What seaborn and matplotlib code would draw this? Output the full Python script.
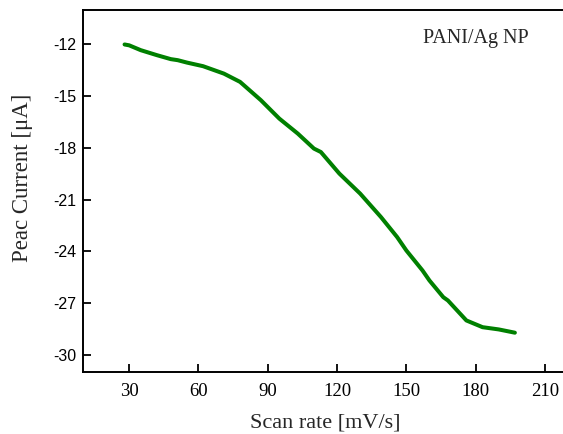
import matplotlib
matplotlib.use("Agg")
import matplotlib.pyplot as plt
import seaborn as sns
import pandas as pd

# Peak current vs scan rate for PANI/Ag NP electrode
scan_rate = [28, 30, 35, 42, 48, 51, 55, 62, 71, 78, 87, 95, 103, 110, 113,
             121, 130, 139, 146, 150, 157, 160, 166, 168, 176, 183, 190, 197]
peak_current = [-12.0, -12.05, -12.33, -12.62, -12.85, -12.91, -13.05, -13.26,
                -13.69, -14.17, -15.23, -16.30, -17.17, -18.04, -18.24, -19.49,
                -20.65, -22.01, -23.17, -23.95, -25.11, -25.69, -26.66, -26.85,
                -28.01, -28.40, -28.53, -28.72]
x_ticks = [30, 60, 90, 120, 150, 180, 210]
y_ticks = [-12, -15, -18, -21, -24, -27, -30]

df = pd.DataFrame({"scan": scan_rate, "current": peak_current})

sns.set_style("ticks")
serif = ["Liberation Serif", "DejaVu Serif"]
sans = ["Liberation Sans", "DejaVu Sans"]

fig = plt.figure(figsize=(5.63, 4.34), dpi=100)
ax = fig.add_axes([83 / 563, 62 / 434, 485 / 563, 362 / 434])

sns.lineplot(data=df, x="scan", y="current", ax=ax, color="green",
             linewidth=2.9, sort=False)

ax.set_xlim(10, 220)
ax.set_ylim(-31, -10)
ax.set_xticks(x_ticks)
ax.set_yticks(y_ticks)
ax.set_xticklabels([str(t) for t in x_ticks], family=serif, fontsize=13.5)
ax.set_yticklabels([str(t) for t in y_ticks], family=sans, fontsize=11.5)
ax.tick_params(direction="in", length=6, width=1.3, colors="black")
ax.tick_params(axis="y", pad=4.5)
ax.tick_params(axis="x", pad=8)

for side in ["left", "bottom", "top"]:
    ax.spines[side].set_visible(True)
    ax.spines[side].set_linewidth(1.4)
    ax.spines[side].set_color("black")
ax.spines["right"].set_visible(False)

ax.set_xlabel("Scan rate [mV/s]", family=serif, fontsize=16, labelpad=9.5)
ax.set_ylabel("Peac Current [\u03bcA]", family=serif, fontsize=16.5)
ax.yaxis.set_label_coords(-0.103, 0.537)

ax.text(0.81, 0.922, "PANI/Ag NP", transform=ax.transAxes, family=serif,
        fontsize=14.5, ha="center", va="center")

fig.savefig("out.png", dpi=100)
